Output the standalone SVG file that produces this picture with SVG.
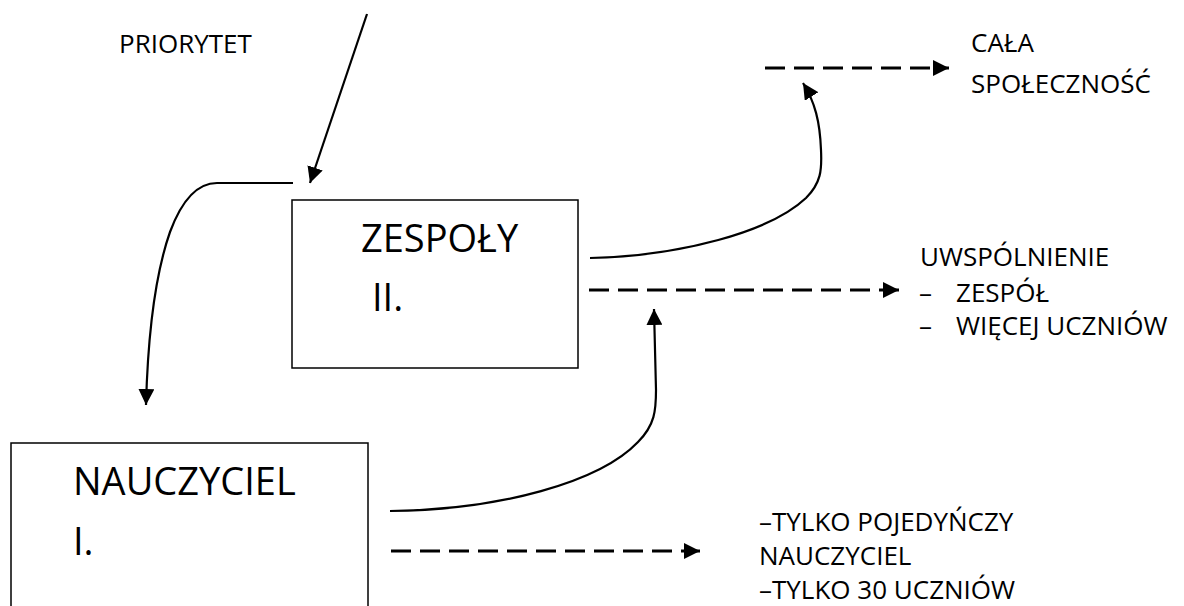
<svg xmlns="http://www.w3.org/2000/svg" width="1184" height="606" viewBox="0 0 1184 606">
<style>
.box{fill:#fff;stroke:#000;stroke-width:1.5}
.t{font-family:"Open Sans","Noto Sans",sans-serif;fill:#000}
.big{font-size:38px}
.sm{font-size:26px}
.cur{fill:none;stroke:#000;stroke-width:2.2}
.dash{fill:none;stroke:#000;stroke-width:3;stroke-dasharray:20 9}
</style>
<defs>
<marker id="ah" viewBox="0 0 10 10" markerUnits="userSpaceOnUse" markerWidth="16" markerHeight="16" refX="10" refY="5" orient="auto">
<path d="M0,0 L10,5 L0,10 z" fill="#000"/>
</marker>
</defs>
<rect width="1184" height="606" fill="#fff"/>
<text class="t sm" x="119" y="53">PRIORYTET</text>
<g id="zespoly">
<rect class="box" x="292" y="200" width="286" height="168"/>
<text class="t big" x="361" y="252">ZESPOŁY</text>
<text class="t big" x="372" y="311">II.</text>
</g>
<g id="nauczyciel">
<rect class="box" x="11" y="443" width="357" height="175"/>
<text class="t big" x="73" y="495">NAUCZYCIEL</text>
<text class="t big" x="73" y="555">I.</text>
</g>
<g id="cala">
<text class="t sm" x="971" y="52">CAŁA</text>
<text class="t sm" x="971" y="93">SPOŁECZNOŚĆ</text>
</g>
<g id="uwspolnienie">
<text class="t sm" x="920" y="266">UWSPÓLNIENIE</text>
<text class="t sm" y="302"><tspan x="919">–</tspan><tspan x="956">ZESPÓŁ</tspan></text>
<text class="t sm" y="335"><tspan x="919">–</tspan><tspan x="956">WIĘCEJ UCZNIÓW</tspan></text>
</g>
<g id="tylko">
<text class="t sm" x="759" y="531">–TYLKO POJEDYŃCZY</text>
<text class="t sm" x="759" y="565">NAUCZYCIEL</text>
<text class="t sm" x="759" y="599">–TYLKO 30 UCZNIÓW</text>
</g>
<g id="connectors">
<path class="cur" d="M367,14 L310,183" marker-end="url(#ah)"/>
<path class="cur" d="M293,183 L217,183 C195,183 180,205 170,232 C156,272 148,330 146,405" marker-end="url(#ah)"/>
<path class="cur" d="M590,258 C680,256 770,232 806,198 C821,183 822,170 821,150 C820,122 815,102 803,83" marker-end="url(#ah)"/>
<path class="cur" d="M390,511 C500,510 600,482 638,442 C655,425 656,410 656,390 L654,309" marker-end="url(#ah)"/>
<path class="dash" d="M765,68 L949,68" marker-end="url(#ah)"/>
<path class="dash" d="M589,290 L899,290" marker-end="url(#ah)"/>
<path class="dash" d="M391,551 L700,551" marker-end="url(#ah)"/>
</g>
</svg>
